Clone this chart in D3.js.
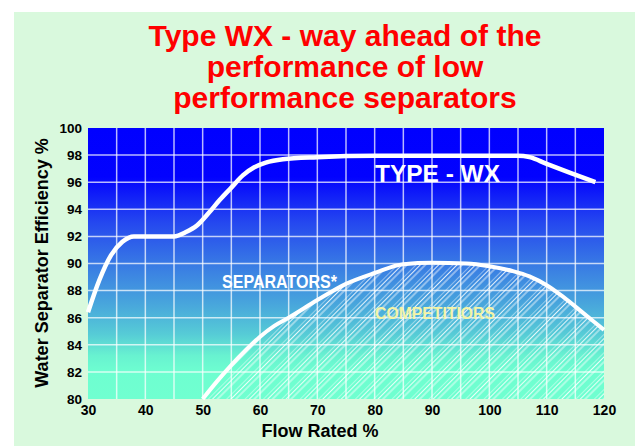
<!DOCTYPE html>
<html>
<head>
<meta charset="utf-8">
<script src="https://cdn.jsdelivr.net/npm/d3@7"></script>
<style>
    html, body { margin: 0; padding: 0; background: #ffffff; }
    svg { display: block; font-family: "Liberation Sans", Arial, sans-serif; }
</style>
</head>
<body>
<div id="graphContainer"></div>
<script>
"use strict";

// Chart data
const titleLines = ["Type WX - way ahead of the", "performance of low", "performance separators"];
const xTicks = [30, 40, 50, 60, 70, 80, 90, 100, 110, 120];
const yTicks = [80, 82, 84, 86, 88, 90, 92, 94, 96, 98, 100];
const xGrid = [35, 40, 45, 50, 55, 60, 65, 70, 75, 80, 85, 90, 95, 100, 105, 110, 115];
const yGrid = [82, 84, 86, 88, 90, 92, 94, 96, 98];

// Flow rated %, efficiency %
const typeWX = [
    [30, 86.4], [32, 88.8], [34, 90.6], [36, 91.6], [38, 92.0], [45, 92.0],
    [47, 92.3], [49, 92.8], [51, 93.7], [53, 94.7], [55, 95.6], [57, 96.5],
    [59, 97.1], [61, 97.45], [64, 97.7], [70, 97.85], [80, 97.95], [90, 97.95],
    [105, 97.95], [107, 97.85], [110, 97.35], [114, 96.7], [118.5, 96.0]
];
const competitors = [
    [50, 80], [52.5, 81.3], [55, 82.5], [57.5, 83.6], [60, 84.6], [62.5, 85.4],
    [65, 86.0], [70, 87.3], [75, 88.5], [80, 89.3], [85, 89.95], [90, 90.05],
    [96, 90.0], [100, 89.8], [104, 89.45], [107, 89.05], [110, 88.4], [113, 87.5],
    [116.5, 86.3], [120, 85.1]
];

const graphInfo = {
    width: 635,
    height: 446,
    left: 88,
    right: 604,
    top: 128,
    bottom: 399
};

const svg = d3.select("#graphContainer").append("svg")
    .attr("width", graphInfo.width)
    .attr("height", graphInfo.height);

const defs = svg.append("defs");

// Background gradient of the plot, blue to aquamarine
const grad = defs.append("linearGradient")
    .attr("id", "plotFill")
    .attr("x1", 0).attr("y1", 0).attr("x2", 0).attr("y2", 1);
[
    [0, "#0000ff"], [0.18, "#0202fe"], [0.35, "#2548ef"], [0.52, "#3a7fe3"],
    [0.65, "#48a6dc"], [0.76, "#56cbd6"], [0.84, "#68f2d0"], [0.9, "#6efed0"], [1, "#70ffd0"]
].forEach(s => grad.append("stop").attr("offset", s[0]).attr("stop-color", s[1]));

// Hatching for the competitors area
const hatch = defs.append("pattern")
    .attr("id", "hatch")
    .attr("patternUnits", "userSpaceOnUse")
    .attr("width", 13).attr("height", 13)
    .attr("patternTransform", "rotate(45)");
[0, 3.5, 7].forEach(x => hatch.append("line")
    .attr("x1", x).attr("x2", x).attr("y1", 0).attr("y2", 13)
    .attr("stroke", "#ffffff").attr("stroke-width", 1).attr("stroke-opacity", 0.85));

// Light green panel
svg.append("rect")
    .attr("x", 14).attr("y", 12)
    .attr("width", graphInfo.width - 14).attr("height", graphInfo.height - 12)
    .attr("fill", "#d9f9dd");

const xScale = d3.scaleLinear().domain([30, 120]).range([graphInfo.left, graphInfo.right]);
const yScale = d3.scaleLinear().domain([80, 100]).range([graphInfo.bottom, graphInfo.top]);

svg.append("rect")
    .attr("x", graphInfo.left).attr("y", graphInfo.top)
    .attr("width", graphInfo.right - graphInfo.left)
    .attr("height", graphInfo.bottom - graphInfo.top)
    .attr("fill", "url(#plotFill)");

// Hatched area under the competitors curve
const area = d3.area()
    .curve(d3.curveMonotoneX)
    .x(d => xScale(d[0]))
    .y0(yScale(80))
    .y1(d => yScale(d[1]));
svg.append("path")
    .datum(competitors)
    .attr("fill", "url(#hatch)")
    .attr("d", area);

// Grid
const grid = svg.append("g")
    .attr("stroke", "#ffffff")
    .attr("stroke-opacity", 0.72)
    .attr("stroke-width", 1.5);
grid.selectAll(".vline").data(xGrid).join("line")
    .attr("x1", d => xScale(d)).attr("x2", d => xScale(d))
    .attr("y1", graphInfo.top).attr("y2", graphInfo.bottom);
grid.selectAll(".hline").data(yGrid).join("line")
    .attr("x1", graphInfo.left).attr("x2", graphInfo.right)
    .attr("y1", d => yScale(d)).attr("y2", d => yScale(d));

// Curves
const line = d3.line()
    .curve(d3.curveMonotoneX)
    .x(d => xScale(d[0]))
    .y(d => yScale(d[1]));

svg.append("path")
    .datum(competitors)
    .attr("fill", "none")
    .attr("stroke", "#ffffff")
    .attr("stroke-width", 4)
    .attr("d", line);

svg.append("path")
    .datum(typeWX)
    .attr("fill", "none")
    .attr("stroke", "#ffffff")
    .attr("stroke-width", 4.5)
    .attr("d", line);

// Axes
svg.append("g")
    .attr("transform", `translate(0,${graphInfo.bottom})`)
    .call(d3.axisBottom(xScale).tickValues(xTicks).tickSize(0).tickPadding(0))
    .call(g => g.select(".domain").remove())
    .call(g => g.selectAll("text")
        .attr("y", 16)
        .attr("dy", 0)
        .attr("fill", "#000")
        .attr("font-size", 14)
        .attr("font-weight", "bold")
        .attr("font-family", "Liberation Sans, Arial, sans-serif"));

svg.append("g")
    .attr("transform", `translate(${graphInfo.left},0)`)
    .call(d3.axisLeft(yScale).tickValues(yTicks).tickSize(0).tickPadding(6))
    .call(g => g.select(".domain").remove())
    .call(g => g.selectAll("text")
        .attr("fill", "#000")
        .attr("font-size", 13.5)
        .attr("font-weight", "bold")
        .attr("font-family", "Liberation Sans, Arial, sans-serif"));

// Axis labels
svg.append("text")
    .attr("x", 320).attr("y", 437)
    .attr("text-anchor", "middle")
    .attr("font-size", 18)
    .attr("font-weight", "bold")
    .attr("fill", "#000")
    .text("Flow Rated %");

svg.append("text")
    .attr("transform", "translate(48,263) rotate(-90)")
    .attr("text-anchor", "middle")
    .attr("font-size", 18)
    .attr("font-weight", "bold")
    .attr("fill", "#000")
    .text("Water Separator Efficiency %");

// Title
svg.append("g")
    .selectAll("text")
    .data(titleLines)
    .join("text")
    .attr("x", 345)
    .attr("y", (d, i) => 46 + i * 31)
    .attr("text-anchor", "middle")
    .attr("font-size", 30)
    .attr("font-weight", "bold")
    .attr("fill", "#ff0000")
    .text(d => d);

// In-plot labels
svg.append("text")
    .attr("x", 375).attr("y", 181.5)
    .attr("font-size", 23.5)
    .attr("font-weight", "bold")
    .attr("fill", "#ffffff")
    .attr("textLength", 125)
    .attr("lengthAdjust", "spacingAndGlyphs")
    .text("TYPE - WX");

svg.append("text")
    .attr("x", 222).attr("y", 287.5)
    .attr("font-size", 18)
    .attr("font-weight", "bold")
    .attr("fill", "#ffffff")
    .attr("textLength", 115)
    .attr("lengthAdjust", "spacingAndGlyphs")
    .text("SEPARATORS*");

svg.append("text")
    .attr("x", 375).attr("y", 318.5)
    .attr("font-size", 16)
    .attr("font-weight", "bold")
    .attr("fill", "#f4f4a6")
    .attr("textLength", 120)
    .attr("lengthAdjust", "spacingAndGlyphs")
    .text("COMPETITIORS");
</script>
</body>
</html>
